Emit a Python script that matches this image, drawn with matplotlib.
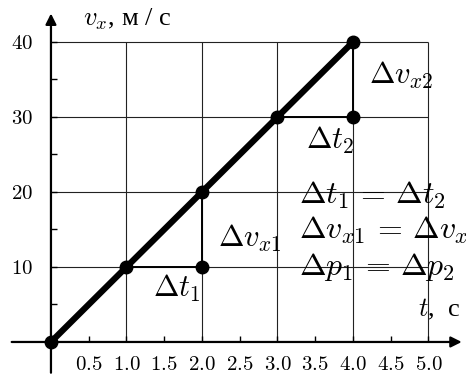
import matplotlib.pyplot as plt
import numpy as np

plt.rcParams['mathtext.fontset'] = 'cm'
plt.rcParams['font.family'] = ['Liberation Serif', 'DejaVu Serif']

# velocity vs time
t = [0, 1, 2, 3, 4]
v = [0, 10, 20, 30, 40]
# the two "staircase" steps
step1_t = [1, 2, 2]
step1_v = [10, 10, 20]
step2_t = [3, 4, 4]
step2_v = [30, 30, 40]
corner_t = [2, 4]
corner_v = [10, 30]

xticks = [0.5, 1.0, 1.5, 2.0, 2.5, 3.0, 3.5, 4.0, 4.5, 5.0]
yticks = [10, 20, 30, 40]
yminor = [5, 15, 25, 35]
grid_x = [1, 2, 3, 4, 5]
grid_y = [10, 20, 30, 40]

fig = plt.figure(figsize=(4.66, 3.80), dpi=100)
ax = fig.add_axes([0, 0, 1, 1])
ax.set_xlim(-0.675, 5.497)
ax.set_ylim(-5.07, 45.6)

# grid
ax.vlines(grid_x, 0, 40, color='#222222', lw=0.8, zorder=1)
ax.hlines(grid_y, 0, 5, color='#222222', lw=0.8, zorder=1)

# axes with arrows
for s in ax.spines.values():
    s.set_visible(False)
ax.spines['left'].set_position(('data', 0))
ax.spines['bottom'].set_position(('data', 0))
ax.annotate('', xy=(5.44, 0), xytext=(-0.52, 0),
            arrowprops=dict(arrowstyle='-|>', lw=1.6, color='black',
                            mutation_scale=16, shrinkA=0, shrinkB=0))
ax.annotate('', xy=(0, 43.8), xytext=(0, -4.1),
            arrowprops=dict(arrowstyle='-|>', lw=1.6, color='black',
                            mutation_scale=16, shrinkA=0, shrinkB=0))

ax.set_xticks(xticks)
ax.set_xticklabels([f'${x:.1f}$' for x in xticks])
ax.set_yticks(yticks)
ax.set_yticklabels([f'${y}$' for y in yticks])
ax.set_yticks(yminor, minor=True)
ax.tick_params(axis='x', direction='in', length=4, width=1, pad=10, labelsize=15)
ax.tick_params(axis='y', direction='in', length=4, width=1, pad=13, labelsize=15)
ax.tick_params(axis='y', which='minor', direction='in', length=4, width=1)

# steps and main line
ax.plot(step1_t, step1_v, color='black', lw=1.4, zorder=2)
ax.plot(step2_t, step2_v, color='black', lw=1.4, zorder=2)
ax.plot(t, v, color='black', lw=4.5, zorder=3, solid_capstyle='round')
ax.plot(t, v, 'o', color='black', ms=9, zorder=4)
ax.plot(corner_t, corner_v, 'o', color='black', ms=9, zorder=4)

fs = 22
ax.text(0.42, 43.0, r'$v_x$, м / с', fontsize=19, ha='left', va='center')
ax.text(4.86, 4.4, r'$t$,  с', fontsize=19, ha='left', va='center')
ax.text(4.64, 35.5, r'$\Delta v_{x2}$', fontsize=fs, ha='center', va='center')
ax.text(3.70, 26.9, r'$\Delta t_2$', fontsize=fs, ha='center', va='center')
ax.text(1.66, 7.1, r'$\Delta t_1$', fontsize=fs, ha='center', va='center')
ax.text(2.63, 13.8, r'$\Delta v_{x1}$', fontsize=fs, ha='center', va='center')
eq_fs = 23
ax.text(3.28, 19.6, r'$\Delta t_1 \,=\, \Delta t_2$', fontsize=eq_fs, ha='left', va='center')
ax.text(3.28, 14.9, r'$\Delta v_{x1} \,=\, \Delta v_{x2}$', fontsize=eq_fs, ha='left', va='center')
ax.text(3.28, 10.0, r'$\Delta p_1 \,=\, \Delta p_2$', fontsize=eq_fs, ha='left', va='center')

fig.savefig('out.png', dpi=100)
